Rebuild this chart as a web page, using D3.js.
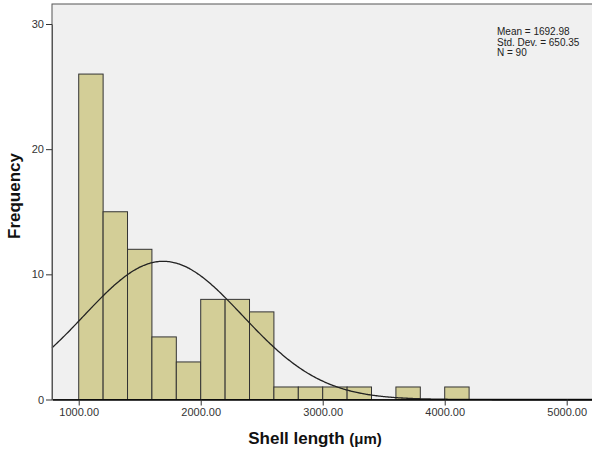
<!DOCTYPE html>
<html><head><meta charset="utf-8">
<script src="https://cdn.jsdelivr.net/npm/d3@7"></script>
<style>body{margin:0;background:#fff}svg{display:block}</style>
</head><body>
<svg id="c" width="592" height="452"></svg>
<script>
const binStarts = [1000,1200,1400,1600,1800,2000,2200,2400,2600,2800,3000,3200,3400,3600,3800,4000];
const binCounts = [26,15,12,5,3,8,8,7,1,1,1,1,0,1,0,1];
const binWidth = 200;
const xTicks = [1000,2000,3000,4000,5000];
const yTicks = [0,10,20,30];
const statLabels = ["Mean = 1692.98","Std. Dev. = 650.35","N = 90"];
const mean = 1692.98, sd = 650.35, n = 90;

const svg = d3.select("#c");
const L = 52, T = 4, R = 600, B = 399.5;
const x = d3.scaleLinear().domain([781, 1000 + (R - 78.7)/0.122]).range([L, R]);
const y = d3.scaleLinear().domain([0, 30]).range([B, 24]);

svg.append("rect").attr("x", L).attr("y", T).attr("width", R-L).attr("height", B-T)
  .attr("fill", "#f0f0f0").attr("stroke", "#555").attr("stroke-width", 1);

const data = binStarts.map((s,i)=>({s, c: binCounts[i]})).filter(d=>d.c>0);
svg.append("g").selectAll("rect").data(data).join("rect")
  .attr("x", d=>x(d.s)).attr("y", d=>y(d.c))
  .attr("width", d=>x(d.s+binWidth)-x(d.s)).attr("height", d=>y(0)-y(d.c))
  .attr("fill", "#d3ce97").attr("stroke", "#333").attr("stroke-width", 1);

// fitted normal curve
const xs = d3.range(781, 5300, 10);
const pdf = v => n*binWidth*Math.exp(-0.5*((v-mean)/sd)**2)/(sd*Math.sqrt(2*Math.PI));
svg.append("path").datum(xs)
  .attr("d", d3.line().x(v=>x(v)).y(v=>y(pdf(v))).curve(d3.curveBasis))
  .attr("fill","none").attr("stroke","#222").attr("stroke-width",1.3);

// axes
const xa = svg.append("g").attr("transform", `translate(0,${B})`)
  .call(d3.axisBottom(x).tickValues(xTicks).tickFormat(d3.format(".2f")).tickSize(6).tickSizeOuter(0).tickPadding(3));
xa.select(".domain").attr("stroke","#000").attr("stroke-width",1.5);
const ya = svg.append("g").attr("transform", `translate(${L},0)`)
  .call(d3.axisLeft(y).tickValues(yTicks).tickSize(6).tickSizeOuter(0).tickPadding(2));
ya.select(".domain").attr("stroke","#555");
svg.selectAll(".tick text").attr("font-family","Arial, 'Liberation Sans', sans-serif").attr("font-size",11).attr("fill","#333");
svg.selectAll(".tick line").attr("stroke","#333");

// stats
svg.append("g").selectAll("text").data(statLabels).join("text")
  .attr("x", 497).attr("y", (d,i)=>35+i*10.5)
  .attr("font-family","Arial, 'Liberation Sans', sans-serif").attr("font-size",10).attr("fill","#222")
  .text(d=>d);

// titles
const xt = svg.append("text").attr("x", 315).attr("y", 444).attr("text-anchor","middle")
  .attr("font-family","Arial, 'Liberation Sans', sans-serif").attr("font-weight","bold").attr("font-size",17).attr("fill","#111");
xt.append("tspan").text("Shell length ");
xt.append("tspan").attr("font-size",15).text("(μm)");
svg.append("text").attr("transform","translate(20,196) rotate(-90)").attr("text-anchor","middle")
  .attr("font-family","Arial, 'Liberation Sans', sans-serif").attr("font-weight","bold").attr("font-size",17).attr("fill","#111")
  .text("Frequency");
</script>
</body></html>
